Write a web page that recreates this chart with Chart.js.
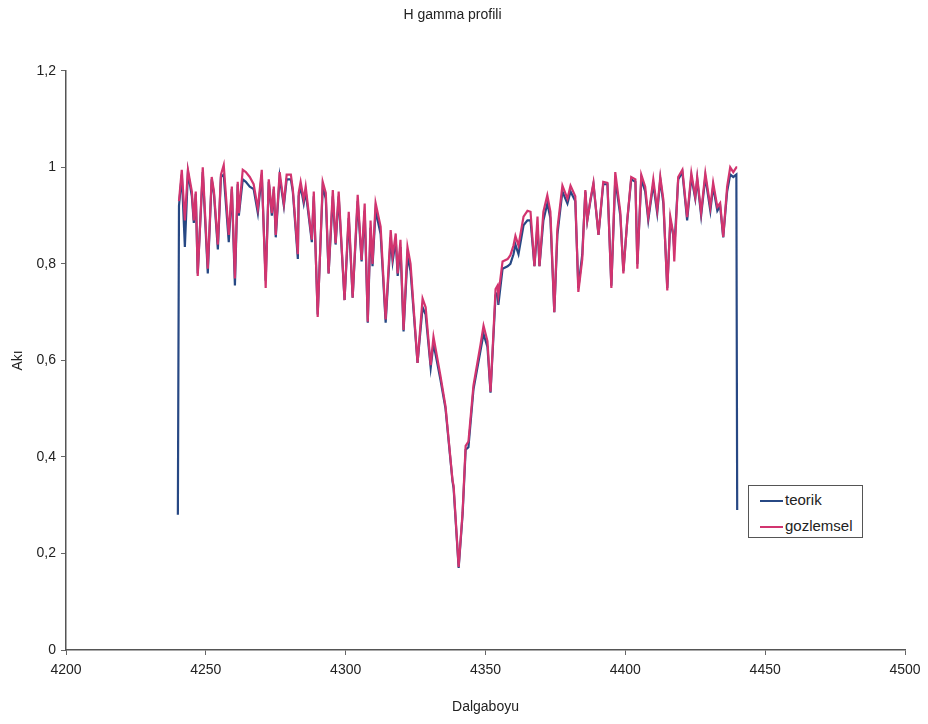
<!DOCTYPE html>
<html>
<head>
<meta charset="utf-8">
<script src="https://cdn.jsdelivr.net/npm/chart.js@4.4.0/dist/chart.umd.min.js"></script>
<style>
  html, body { margin: 0; padding: 0; background: #fff; }
  #wrap { position: relative; width: 928px; height: 724px; }
  #legend {
    position: absolute; left: 748px; top: 485px; width: 113px; height: 51px;
    border: 1px solid #555; background: #fff;
    font-family: "Liberation Sans", Arial, sans-serif; font-size: 15px; color: #222;
  }
  #legend .row { position: absolute; left: 11px; height: 18px; line-height: 18px; }
  #legend .sw { display: inline-block; width: 23px; height: 2px; vertical-align: middle; margin-right: 2px; }
</style>
</head>
<body>
<div id="wrap">
  <canvas id="chart" width="928" height="724"></canvas>
  <div id="legend"></div>
</div>
<script>
// Dalgaboyu (Angstrom)
var dalgaboyu = [
  4240.0, 4240.4, 4241.4, 4242.5, 4243.6, 4245.0, 4245.7, 4246.4, 4247.1, 4248.9,
  4250.7, 4252.1, 4252.9, 4254.3, 4255.4, 4256.4, 4258.2, 4259.3, 4260.4, 4261.4,
  4261.8, 4263.2, 4264.3, 4265.7, 4267.1, 4268.6, 4270.0, 4271.4, 4272.5, 4273.6,
  4274.3, 4275.0, 4276.4, 4277.9, 4278.9, 4280.4, 4281.1, 4282.9, 4283.2, 4283.9,
  4285.0, 4285.7, 4287.9, 4288.6, 4290.0, 4291.8, 4292.9, 4293.9, 4295.4, 4296.4,
  4297.5, 4299.6, 4301.1, 4302.5, 4304.3, 4305.7, 4306.8, 4307.9, 4308.9, 4309.6,
  4310.7, 4312.5, 4314.3, 4316.1, 4316.8, 4317.9, 4318.6, 4319.6, 4320.7, 4322.1,
  4323.2, 4325.7, 4327.5, 4328.6, 4330.4, 4331.4, 4333.9, 4335.7, 4338.2, 4338.6,
  4340.4, 4341.8, 4342.9, 4343.9, 4345.7, 4348.2, 4349.3, 4350.7, 4351.8, 4353.6,
  4354.3, 4354.6, 4356.1, 4357.9, 4358.9, 4360.0, 4360.7, 4361.8, 4363.6, 4365.0,
  4366.1, 4367.5, 4368.6, 4369.3, 4370.7, 4372.1, 4373.2, 4374.6, 4375.7, 4377.5,
  4379.3, 4380.4, 4382.1, 4383.2, 4384.6, 4385.7, 4386.4, 4387.5, 4388.6, 4390.4,
  4392.1, 4393.6, 4395.0, 4396.4, 4398.2, 4399.3, 4400.7, 4402.1, 4403.6, 4404.3,
  4405.7, 4407.1, 4408.2, 4408.9, 4410.0, 4411.4, 4412.5, 4413.6, 4415.0, 4416.1,
  4417.1, 4417.5, 4418.9, 4420.4, 4422.1, 4423.6, 4425.0, 4425.7, 4427.1, 4428.6,
  4430.4, 4431.4, 4432.9, 4433.9, 4435.0, 4436.4, 4437.5, 4438.6, 4439.7, 4440.0
];

// teorik aki
var teorik = [
  0.28, 0.92, 0.985, 0.835, 0.99, 0.94, 0.885, 0.945, 0.78, 0.99,
  0.78, 0.975, 0.945, 0.83, 0.98, 0.985, 0.845, 0.955, 0.755, 0.965,
  0.90, 0.975, 0.97, 0.96, 0.955, 0.905, 0.985, 0.765, 0.97, 0.90,
  0.955, 0.855, 0.98, 0.92, 0.975, 0.975, 0.95, 0.81, 0.94, 0.96,
  0.925, 0.95, 0.845, 0.94, 0.695, 0.96, 0.935, 0.78, 0.94, 0.84,
  0.94, 0.725, 0.895, 0.73, 0.93, 0.805, 0.91, 0.678, 0.875, 0.795,
  0.91, 0.862, 0.678, 0.855, 0.805, 0.85, 0.775, 0.835, 0.66, 0.815,
  0.785, 0.595, 0.71, 0.695, 0.585, 0.635, 0.56, 0.50, 0.35, 0.335,
  0.17, 0.28, 0.415, 0.42, 0.54, 0.62, 0.655, 0.628, 0.533, 0.735,
  0.74, 0.715, 0.79, 0.795, 0.80, 0.82, 0.84, 0.82, 0.88, 0.89,
  0.89, 0.795, 0.88, 0.795, 0.89, 0.925, 0.895, 0.70, 0.86, 0.95,
  0.925, 0.95, 0.93, 0.75, 0.82, 0.95, 0.89, 0.93, 0.965, 0.86,
  0.965, 0.965, 0.755, 0.975, 0.90, 0.785, 0.89, 0.975, 0.97, 0.80,
  0.975, 0.95, 0.89, 0.92, 0.965, 0.905, 0.975, 0.925, 0.75, 0.89,
  0.86, 0.83, 0.975, 0.99, 0.89, 0.98, 0.935, 0.975, 0.90, 0.98,
  0.91, 0.96, 0.91, 0.92, 0.855, 0.95, 0.985, 0.98, 0.985, 0.29
];

// gozlemsel aki
var gozlemsel = [
  null, 0.93, 0.995, 0.89, 0.995, 0.95, 0.89, 0.95, 0.775, 1.0,
  0.79, 0.98, 0.95, 0.84, 0.985, 1.005, 0.86, 0.96, 0.77, 0.97,
  0.905, 0.995, 0.99, 0.98, 0.965, 0.915, 0.995, 0.75, 0.975, 0.905,
  0.96, 0.86, 0.99, 0.925, 0.985, 0.985, 0.955, 0.82, 0.947, 0.97,
  0.933, 0.96, 0.85, 0.95, 0.69, 0.97, 0.947, 0.78, 0.953, 0.843,
  0.95, 0.725, 0.908, 0.73, 0.943, 0.808, 0.925, 0.68, 0.89, 0.80,
  0.926, 0.877, 0.685, 0.87, 0.815, 0.863, 0.78, 0.85, 0.663, 0.835,
  0.80, 0.595, 0.728, 0.71, 0.59, 0.649, 0.568, 0.505, 0.352, 0.34,
  0.172, 0.285, 0.423, 0.432, 0.548, 0.632, 0.672, 0.64, 0.535, 0.748,
  0.755, 0.735, 0.805, 0.81, 0.818, 0.838, 0.858, 0.838, 0.898, 0.91,
  0.908, 0.795, 0.898, 0.795, 0.908, 0.942, 0.908, 0.70, 0.872, 0.962,
  0.935, 0.962, 0.94, 0.742, 0.81, 0.953, 0.89, 0.933, 0.968, 0.86,
  0.97, 0.968, 0.75, 0.99, 0.908, 0.78, 0.891, 0.98, 0.975, 0.79,
  0.985, 0.96, 0.897, 0.926, 0.975, 0.912, 0.98, 0.933, 0.745, 0.897,
  0.864, 0.805, 0.98, 0.995, 0.897, 0.988, 0.939, 0.98, 0.906, 0.988,
  0.918, 0.968, 0.918, 0.926, 0.856, 0.96, 1.0, 0.99, 1.0, 1.0
];

var xTicks = [4200, 4250, 4300, 4350, 4400, 4450, 4500];
var yTicks = [0, 0.2, 0.4, 0.6, 0.8, 1, 1.2];

var FONT = '"Liberation Sans", Arial, sans-serif';

function pairs(xs, ys) {
  var out = [];
  for (var i = 0; i < xs.length; i++) {
    if (ys[i] !== null) out.push({ x: xs[i], y: ys[i] });
  }
  return out;
}

var datasets = [
  { label: 'teorik', data: pairs(dalgaboyu, teorik), borderColor: '#274884', order: 1 },
  { label: 'gozlemsel', data: pairs(dalgaboyu, gozlemsel), borderColor: '#d2346f', order: 0 }
];
datasets.forEach(function(d) {
  d.borderWidth = 2.2;
  d.pointRadius = 0;
  d.tension = 0;
  d.fill = false;
});

var ctx = document.getElementById('chart');

var chart = new Chart(ctx, {
  type: 'line',
  data: { datasets: datasets },
  options: {
    responsive: false,
    animation: false,
    layout: { padding: { left: 0, right: 23, top: 0, bottom: 0 } },
    plugins: {
      legend: { display: false },
      tooltip: { enabled: false },
      title: {
        display: true,
        text: 'H gamma profili',
        color: '#222',
        font: { family: FONT, size: 14, weight: 'normal' },
        padding: { top: 7, bottom: 47 }
      }
    },
    scales: {
      x: {
        type: 'linear',
        min: xTicks[0],
        max: xTicks[xTicks.length - 1],
        afterBuildTicks: function(axis) {
          axis.ticks = xTicks.map(function(v) { return { value: v }; });
        },
        afterFit: function(axis) { axis.height = 74; },
        ticks: {
          color: '#222',
          padding: 7,
          maxRotation: 0,
          font: { family: FONT, size: 14 },
          callback: function(v) { return String(v); }
        },
        grid: { display: true, drawOnChartArea: false, drawTicks: true, tickLength: 5, color: '#666' },
        border: { display: true, color: '#555', width: 1.5 },
        title: {
          display: true,
          text: 'Dalgaboyu',
          color: '#222',
          font: { family: FONT, size: 14 },
          padding: { top: 4, bottom: 8 }
        }
      },
      y: {
        type: 'linear',
        min: yTicks[0],
        max: yTicks[yTicks.length - 1],
        afterBuildTicks: function(axis) {
          axis.ticks = yTicks.map(function(v) { return { value: v }; });
        },
        afterFit: function(axis) { axis.width = 66; },
        ticks: {
          color: '#222',
          padding: 5,
          font: { family: FONT, size: 14 },
          callback: function(v) { return String(Math.round(v * 10) / 10).replace('.', ','); }
        },
        grid: { display: true, drawOnChartArea: false, drawTicks: true, tickLength: 5, color: '#666' },
        border: { display: true, color: '#555', width: 1.5 },
        title: {
          display: true,
          text: 'Akı',
          color: '#222',
          font: { family: FONT, size: 14 },
          padding: { top: 10, bottom: 4 }
        }
      }
    }
  }
});

// legend box built from the datasets
var legend = document.getElementById('legend');
chart.data.datasets.forEach(function(d, i) {
  var row = document.createElement('div');
  row.className = 'row';
  row.style.top = (5 + i * 26) + 'px';
  var sw = document.createElement('span');
  sw.className = 'sw';
  sw.style.background = d.borderColor;
  row.appendChild(sw);
  row.appendChild(document.createTextNode(d.label));
  legend.appendChild(row);
});
</script>
</body>
</html>
